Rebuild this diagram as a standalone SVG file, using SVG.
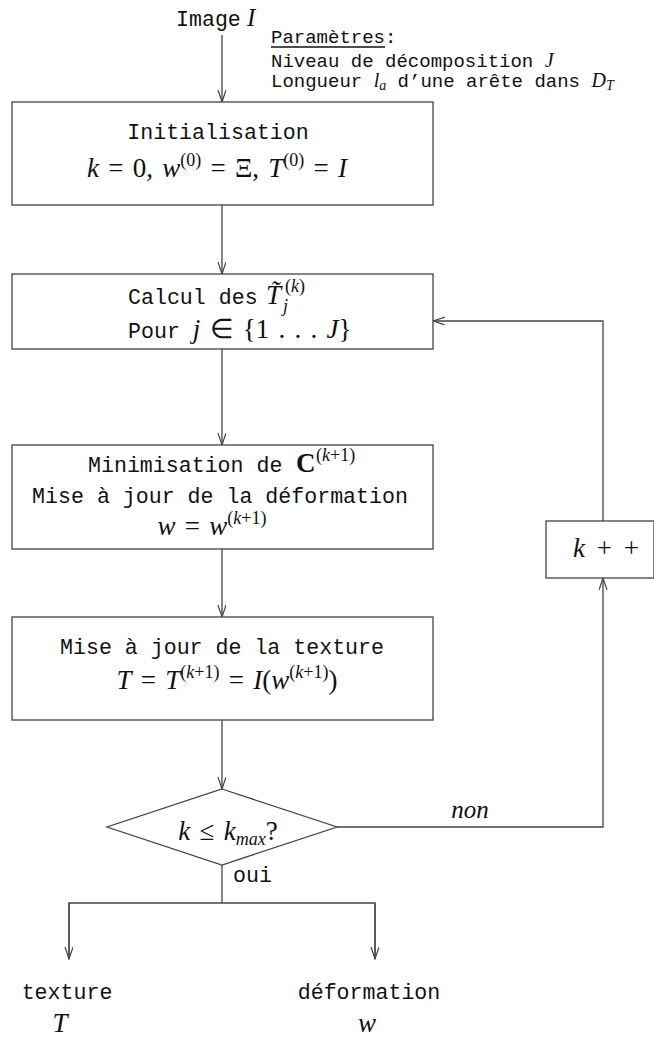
<svg xmlns="http://www.w3.org/2000/svg" width="654" height="1042" viewBox="0 0 654 1042">
<style>
.tt{font-family:"Liberation Mono",monospace;font-size:21.6px;fill:#111}
.ts{font-family:"Liberation Mono",monospace;font-size:19px;fill:#111}
.m{font-family:"Liberation Serif",serif;font-size:27px;fill:#111;word-spacing:2.5px}
.mf{font-family:"Liberation Serif",serif}
.i{font-style:italic}
.sm{font-size:18px}
.box{fill:#fff;stroke:#444;stroke-width:1.3}
.ln{fill:none;stroke:#444;stroke-width:1.3}
</style>
<defs>
<marker id="ah" markerUnits="userSpaceOnUse" markerWidth="13" markerHeight="10" refX="12" refY="4" orient="auto">
<path d="M0,0 L12,4 L0,8" fill="none" stroke="#444" stroke-width="1.2"/>
</marker>
</defs>
<g id="connectors">
<line class="ln" x1="222" y1="35" x2="222" y2="102" marker-end="url(#ah)"/>
<line class="ln" x1="222" y1="205" x2="222" y2="274" marker-end="url(#ah)"/>
<line class="ln" x1="222" y1="349" x2="222" y2="445" marker-end="url(#ah)"/>
<line class="ln" x1="222" y1="549" x2="222" y2="617" marker-end="url(#ah)"/>
<line class="ln" x1="222" y1="720" x2="222" y2="789" marker-end="url(#ah)"/>
<polyline class="ln" points="337,827 603,827 603,578" marker-end="url(#ah)"/>
<polyline class="ln" points="603,521 603,321 433,321" marker-end="url(#ah)"/>
<line class="ln" x1="222" y1="865" x2="222" y2="903"/>
<polyline class="ln" points="69,959 69,903 375,903 375,959"/>
<line class="ln" x1="69" y1="903" x2="69" y2="959" marker-end="url(#ah)"/>
<line class="ln" x1="375" y1="903" x2="375" y2="959" marker-end="url(#ah)"/>
<text class="m i" x="470" y="818" text-anchor="middle" style="font-size:25px">non</text>
<text class="tt" x="233" y="882">oui</text>
</g>
<g id="input">
<text class="tt" x="176" y="26">Image</text>
<text class="m i" x="247" y="26" style="font-size:25px">I</text>
</g>
<g id="parametres">
<text class="ts" x="271" y="43">Paramètres:</text>
<line x1="271" y1="47" x2="385" y2="47" stroke="#111" stroke-width="1.3"/>
<text class="ts" x="271" y="67">Niveau de décomposition <tspan class="mf i" style="font-size:20px">J</tspan></text>
<text class="ts" x="271" y="87">Longueur <tspan class="mf i" style="font-size:20px">l</tspan><tspan class="mf i" style="font-size:14px" dy="3">a</tspan><tspan dy="-3"> d’une arête dans </tspan><tspan class="mf i" style="font-size:20px">D</tspan><tspan class="mf i" style="font-size:14px" dy="3">T</tspan></text>
</g>
<g id="init">
<rect class="box" x="12" y="102" width="421" height="103"/>
<text class="tt" x="218" y="139" text-anchor="middle">Initialisation</text>
<text class="m" x="217" y="177" text-anchor="middle"><tspan class="i">k</tspan> = 0, <tspan class="i">w</tspan><tspan class="sm" dy="-11">(0)</tspan><tspan dy="11"> = Ξ, </tspan><tspan class="i">T</tspan><tspan class="sm" dy="-11">(0)</tspan><tspan dy="11"> = </tspan><tspan class="i">I</tspan></text>
</g>
<g id="calcul">
<rect class="box" x="12" y="274" width="421" height="75"/>
<text class="tt" x="128" y="304">Calcul des</text>
<text class="m i" x="266" y="304">T̃</text>
<text class="m i sm" x="283" y="312">j</text>
<text class="m sm" x="285" y="292">(<tspan class="i">k</tspan>)</text>
<text class="tt" x="128" y="338">Pour <tspan class="m i">j</tspan><tspan class="m"> ∈ {1 . . . <tspan class="i">J</tspan>}</tspan></text>
</g>
<g id="minimisation">
<rect class="box" x="12" y="445" width="421" height="104"/>
<text class="tt" x="88" y="472">Minimisation de</text>
<text class="m" x="296" y="472" font-weight="bold">C</text>
<text class="m sm" x="316" y="461">(<tspan class="i">k</tspan>+1)</text>
<text class="tt" x="220" y="503" text-anchor="middle">Mise à jour de la déformation</text>
<text class="m" x="212" y="535" text-anchor="middle"><tspan class="i">w</tspan> = <tspan class="i">w</tspan><tspan class="sm" dy="-11">(<tspan class="i">k</tspan>+1)</tspan></text>
</g>
<g id="texture">
<rect class="box" x="12" y="617" width="421" height="103"/>
<text class="tt" x="222" y="654" text-anchor="middle">Mise à jour de la texture</text>
<text class="m" x="227" y="689" text-anchor="middle"><tspan class="i">T</tspan> = <tspan class="i">T</tspan><tspan class="sm" dy="-11">(<tspan class="i">k</tspan>+1)</tspan><tspan dy="11"> = </tspan><tspan class="i">I</tspan>(<tspan class="i">w</tspan><tspan class="sm" dy="-11">(<tspan class="i">k</tspan>+1)</tspan><tspan dy="11">)</tspan></text>
</g>
<g id="test">
<polygon class="box" points="222,789 337,827 222,865 107,827"/>
<text class="m" x="228" y="840" text-anchor="middle"><tspan class="i">k</tspan> ≤ <tspan class="i">k</tspan><tspan class="i sm" dy="5">max</tspan><tspan dy="-5">?</tspan></text>
</g>
<g id="increment">
<rect class="box" x="546" y="521" width="108" height="57"/>
<text class="m" x="606" y="557" text-anchor="middle" style="word-spacing:5px"><tspan class="i">k</tspan> + +</text>
</g>
<g id="out-texture">
<text class="tt" x="67" y="999" text-anchor="middle">texture</text>
<text class="m i" x="60" y="1032" text-anchor="middle">T</text>
</g>
<g id="out-deformation">
<text class="tt" x="369" y="999" text-anchor="middle">déformation</text>
<text class="m i" x="367" y="1032" text-anchor="middle">w</text>
</g>
</svg>
